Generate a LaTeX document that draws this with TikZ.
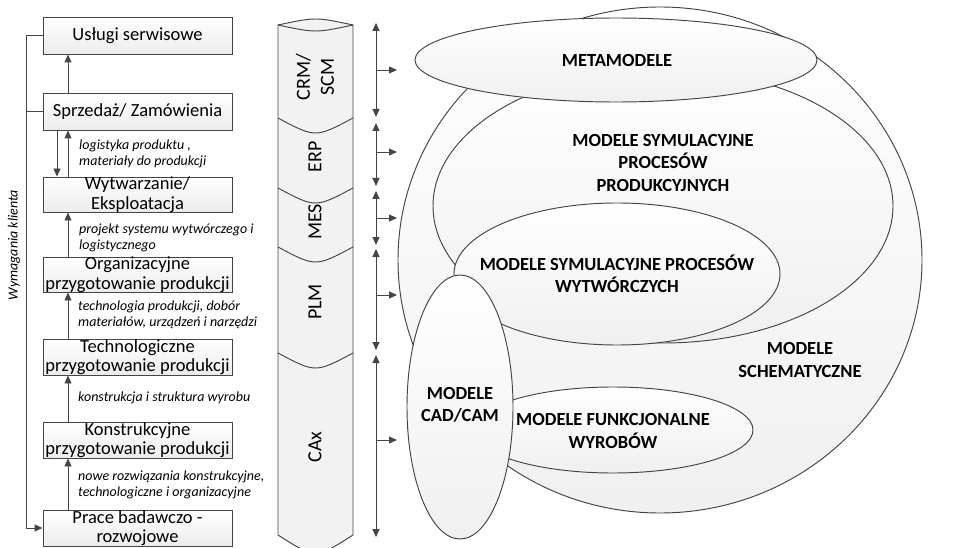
\documentclass[tikz,border=0pt]{standalone}
\usepackage{fontspec}
\setmainfont{Carlito}
\usetikzlibrary{arrows.meta}
\definecolor{linec}{gray}{0.27}
\begin{document}
\begin{tikzpicture}[x=1pt,y=-1pt,
  ln/.style={draw=linec, line width=0.95pt},
  arr/.style={ln, -{Triangle[length=8pt,width=7pt]}},
  darr/.style={ln, {Triangle[length=8pt,width=7pt]}-{Triangle[length=8pt,width=7pt]}},
  box/.style={ln, top color=white, bottom color=gray!15, minimum width=189pt, inner sep=0pt},
  boxtext/.style={inner sep=0pt, align=center, font=\fontsize{18.5}{19.5}\selectfont},
  flow/.style={anchor=west, align=left, inner sep=0pt, font=\fontsize{14}{16}\selectfont\itshape},
  layer/.style={rotate=90, align=center, inner sep=0pt, font=\fontsize{20}{24}\selectfont},
  cyl/.style={left color=gray!10, middle color=white, right color=gray!10},
  model/.style={ln, top color=white, bottom color=gray!12},
  mtext/.style={align=center, inner sep=0pt, font=\fontsize{18.5}{22.5}\selectfont\bfseries}]

\useasboundingbox (0,0) rectangle (966,548);
\fill[white] (0,0) rectangle (966,548);

% ---- life-cycle phases
\node[box, minimum height=37pt] (usl)   at (137.5,35.5)  {};
\node[box, minimum height=37pt] (sprz)  at (137.5,111.5) {};
\node[box, minimum height=35pt] (wytw)  at (137.5,194.5) {};
\node[box, minimum height=35pt] (org)   at (137.5,274.5) {};
\node[box, minimum height=36pt] (tech)  at (137.5,357)   {};
\node[box, minimum height=36pt] (kons)  at (137.5,440)   {};
\node[box, minimum height=36pt] (prace) at (137.5,528)   {};

\node[boxtext] (usl-t)   at (usl.center)   {Usługi serwisowe};
\node[boxtext] (sprz-t)  at (sprz.center)  {Sprzedaż/ Zamówienia};
\node[boxtext] (wytw-t)  at (wytw.center)  {Wytwarzanie/\\Eksploatacja};
\node[boxtext] (org-t)   at (org.center)   {Organizacyjne\\przygotowanie produkcji};
\node[boxtext] (tech-t)  at (tech.center)  {Technologiczne\\przygotowanie produkcji};
\node[boxtext] (kons-t)  at (kons.center)  {Konstrukcyjne\\przygotowanie produkcji};
\node[boxtext] (prace-t) at (prace.center) {Prace badawczo -\\rozwojowe};

\coordinate (ax) at (68,0);
\coordinate (bx) at (57,0);
\coordinate (fb) at (26,0);

\draw[arr] (sprz.north -| ax)  -- (usl.south -| ax);
\draw[arr] (wytw.north -| ax)  -- (sprz.south -| ax);
\draw[arr] (sprz.south -| bx)  -- (wytw.north -| bx);
\draw[arr] (org.north -| ax)   -- (wytw.south -| ax);
\draw[arr] (tech.north -| ax)  -- (org.south -| ax);
\draw[arr] (kons.north -| ax)  -- (tech.south -| ax);
\draw[arr] (prace.north -| ax) -- (kons.south -| ax);

% customer requirements feedback
\draw[arr] (usl.west) -- (usl.west -| fb) -- (prace.west -| fb) -- (prace.west);
\draw[ln] (sprz.west) -- (sprz.west -| fb);
\node[rotate=90, inner sep=0pt, font=\fontsize{14}{16}\selectfont\itshape] (wym) at (14,245) {Wymagania klienta};

% flow labels
\node[flow] (l1) at (79,154)   {logistyka produktu ,\\materiały do produkcji};
\node[flow] (l2) at (79,237.5) {projekt systemu wytwórczego i\\logistycznego};
\node[flow] (l3) at (78,315)   {technologia produkcji, dobór\\materiałów, urządzeń i narzędzi};
\node[flow] (l4) at (78,398)   {konstrukcja i struktura wyrobu};
\node[flow] (l5) at (78,484.5) {nowe rozwiązania konstrukcyjne,\\technologiczne i organizacyjne};

% ---- system stack cylinder
\path[cyl] (278,25) .. controls (315.5,17) .. (353,25) -- (353,535)
  .. controls (315.5,559) .. (278,535) -- cycle;
\draw[ln] (278,25) .. controls (315.5,17) .. (353,25) -- (353,535)
  .. controls (315.5,559) .. (278,535) -- cycle;
\draw[ln] (278,25) .. controls (315.5,33) .. (353,25);
\foreach \yy in {118,188,247,353}
  \draw[ln] (278,\yy) .. controls (315.5,\yy+20) .. (353,\yy);

\node[layer] (crm) at (315,77)  {CRM/\\SCM};
\node[layer] (erp) at (315,157) {ERP};
\node[layer] (mes) at (315,222) {MES};
\node[layer] (plm) at (315,302) {PLM};
\node[layer] (cax) at (315,447) {CAx};

% range arrows
\coordinate (c0) at (376,23);  \coordinate (c1) at (376,117);
\coordinate (c2) at (376,123); \coordinate (c3) at (376,186);
\coordinate (c4) at (376,191); \coordinate (c5) at (376,245);
\coordinate (c6) at (376,249); \coordinate (c7) at (376,350);
\coordinate (c8) at (376,355); \coordinate (c9) at (376,537);
\draw[darr] (c0) -- (c1);
\draw[darr] (c2) -- (c3);
\draw[darr] (c4) -- (c5);
\draw[darr] (c6) -- (c7);
\draw[darr] (c8) -- (c9);
\foreach \yy [count=\i] in {70,152,218,295,440} {
  \coordinate (hs\i) at (376,\yy);
  \coordinate (he\i) at (397,\yy);
  \draw[arr] (hs\i) -- (he\i);
}

% ---- model classes
\path[model] (660,260) ellipse [x radius=262, y radius=253];
\path[model] (663,206) ellipse [x radius=230, y radius=137];
\path[model] (617,274) ellipse [x radius=163, y radius=71];
\path[model] (613,430) ellipse [x radius=140, y radius=43];
\path[model] (460,407) ellipse [x radius=53, y radius=132];
\path[model] (616,60)  ellipse [x radius=201, y radius=42];

\node[mtext] (tmeta) at (617,60)  {METAMODELE};
\node[mtext] (tprod) at (663,163) {MODELE SYMULACYJNE\\PROCESÓW\\PRODUKCYJNYCH};
\node[mtext] (twytw) at (617,274) {MODELE SYMULACYJNE PROCESÓW\\WYTWÓRCZYCH};
\node[mtext] (tcad)  at (460,405) {MODELE\\CAD/CAM};
\node[mtext] (tfunk) at (613,431) {MODELE FUNKCJONALNE\\WYROBÓW};
\node[mtext] (tsch)  at (800,360) {MODELE\\SCHEMATYCZNE};
\end{tikzpicture}
\end{document}
